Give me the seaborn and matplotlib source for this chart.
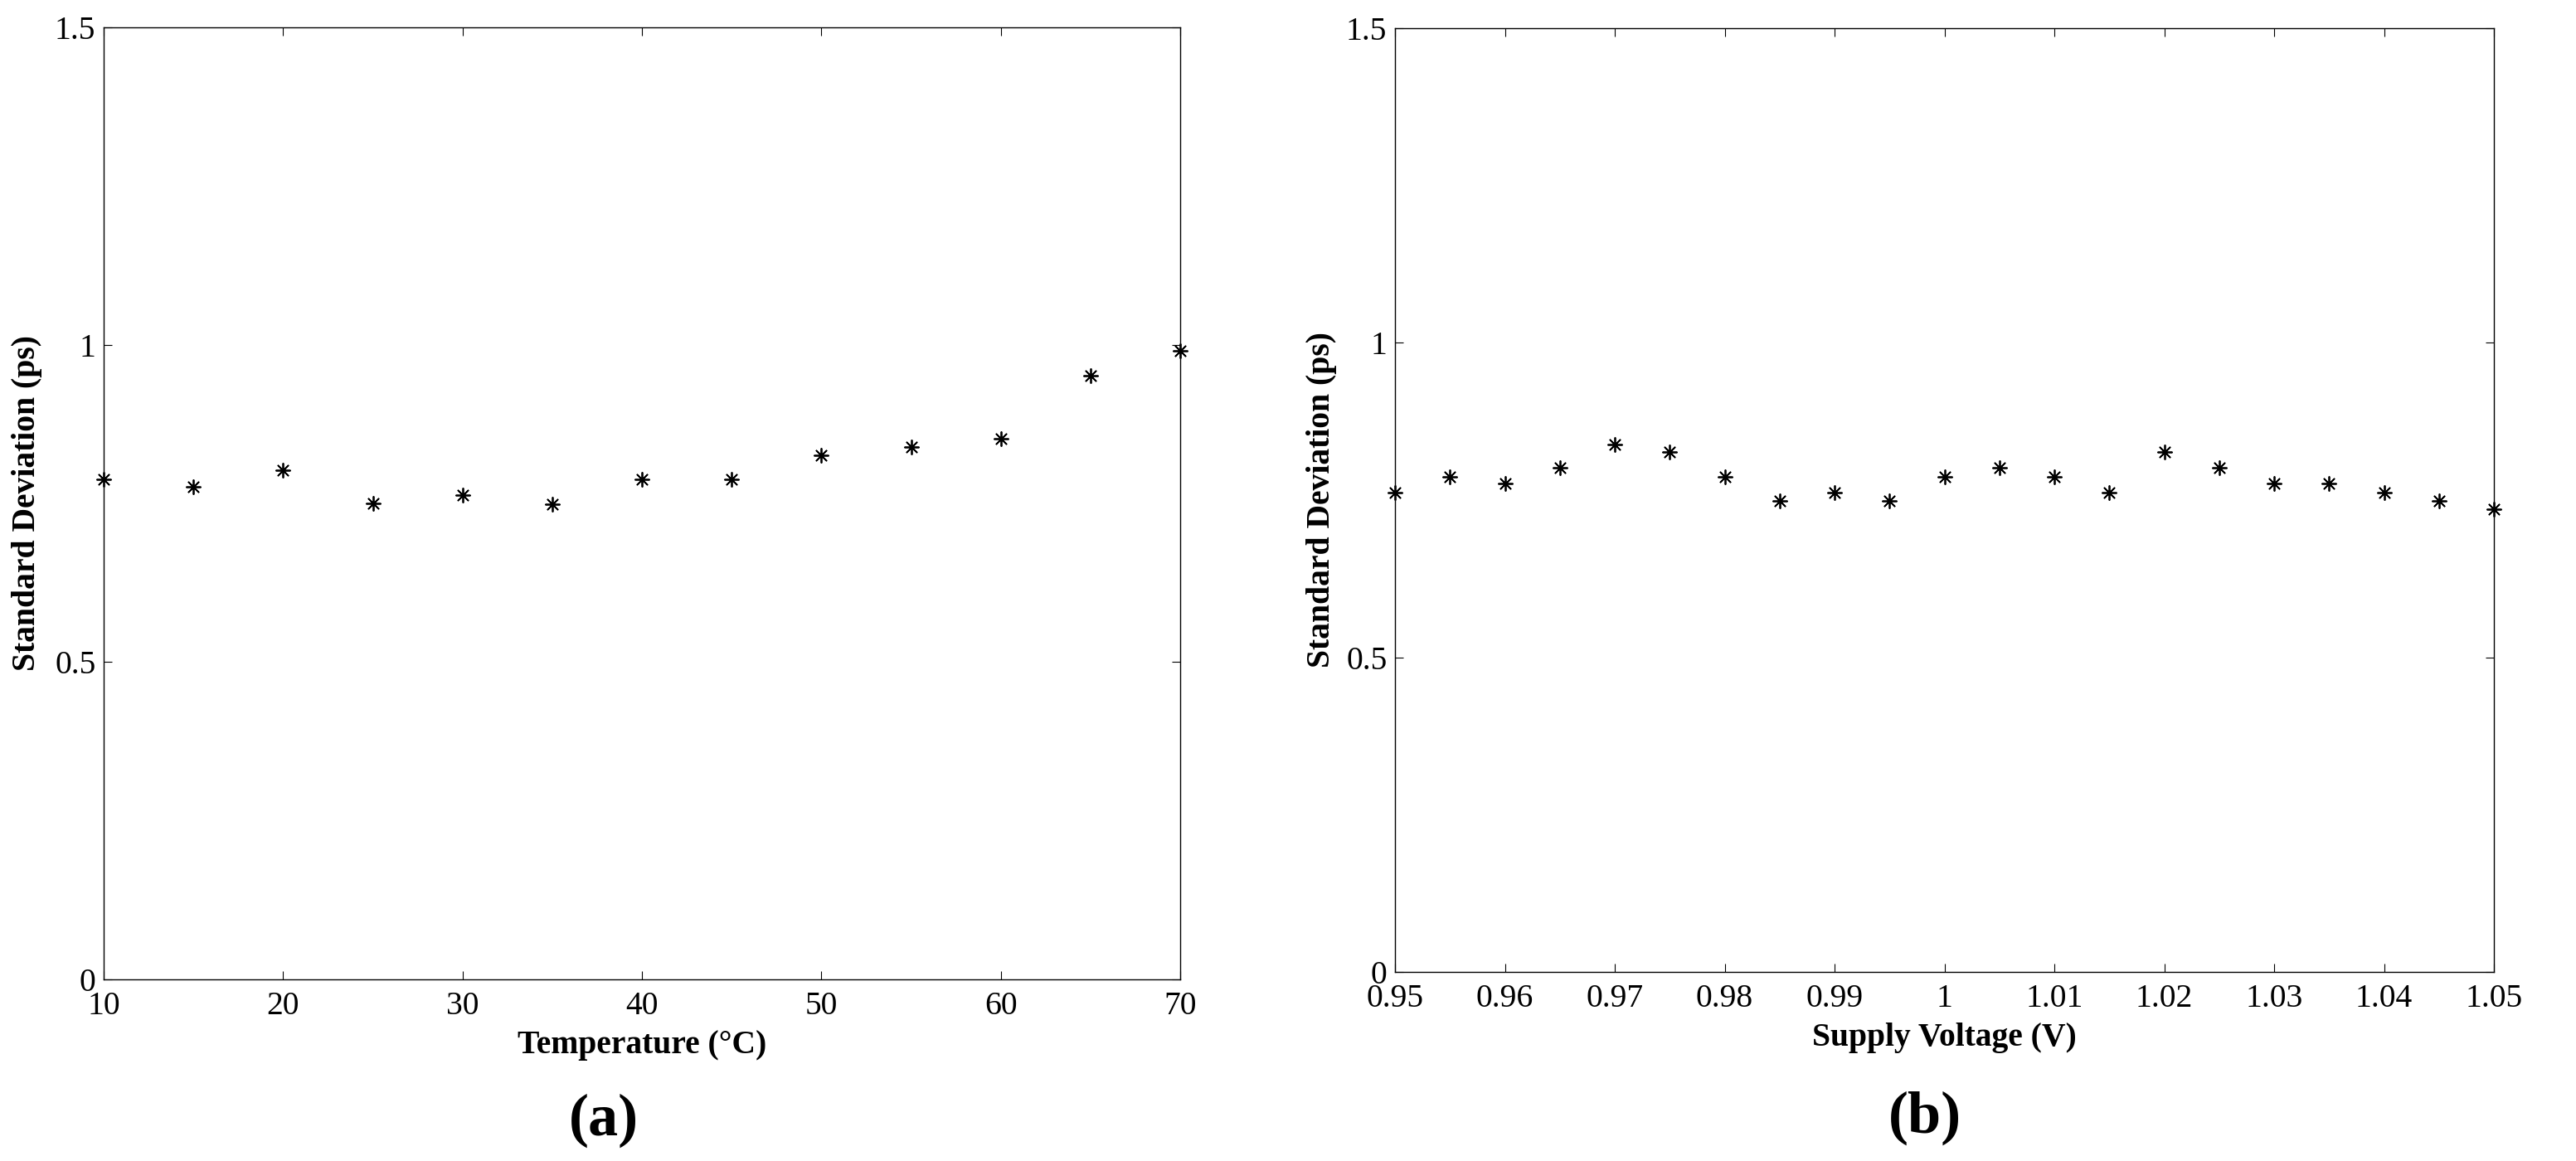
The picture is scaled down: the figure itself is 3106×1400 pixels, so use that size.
import numpy as np
import pandas as pd
import matplotlib
matplotlib.use("Agg")
import matplotlib.pyplot as plt
import seaborn as sns
from matplotlib.ticker import FuncFormatter

# --- data ---
temperature = [10, 15, 20, 25, 30, 35, 40, 45, 50, 55, 60, 65, 70]
std_temp = [0.788, 0.776, 0.802, 0.750, 0.763, 0.749, 0.788, 0.788,
            0.826, 0.839, 0.852, 0.951, 0.991]

voltage = [0.95, 0.955, 0.96, 0.965, 0.97, 0.975, 0.98, 0.985, 0.99, 0.995,
           1.0, 1.005, 1.01, 1.015, 1.02, 1.025, 1.03, 1.035, 1.04, 1.045, 1.05]
std_volt = [0.762, 0.787, 0.776, 0.801, 0.838, 0.826, 0.787, 0.749, 0.762, 0.749,
            0.787, 0.801, 0.787, 0.762, 0.826, 0.801, 0.776, 0.776, 0.762, 0.749, 0.735]

temp_ticks = [10, 20, 30, 40, 50, 60, 70]
volt_ticks = [0.95, 0.96, 0.97, 0.98, 0.99, 1.0, 1.01, 1.02, 1.03, 1.04, 1.05]
y_ticks = [0, 0.5, 1, 1.5]

# --- style ---
sns.set_style("ticks")
plt.rcParams['font.family'] = ['Liberation Serif', 'DejaVu Serif']
plt.rcParams['axes.linewidth'] = 1.0
plt.rcParams['text.color'] = 'black'
plt.rcParams['axes.labelcolor'] = 'black'
plt.rcParams['xtick.color'] = 'black'
plt.rcParams['ytick.color'] = 'black'
plt.rcParams['axes.edgecolor'] = 'black'

W, H = 3106, 1400
fig = plt.figure(figsize=(W / 100, H / 100), dpi=100)

def px_axes(x0, y0, x1, y1):
    return fig.add_axes([x0 / W, 1 - y1 / H, (x1 - x0) / W, (y1 - y0) / H])

ax_a = px_axes(125, 33, 1423, 1181)
ax_b = px_axes(1682, 34, 3007, 1172)

ASTERISK = (8, 2, 0)
fmt = FuncFormatter(lambda v, p: f"{v:g}")

def style_axes(ax, xlabel, xlab_y, ylab_x):
    ax.set_ylim(0, 1.5)
    ax.set_yticks(y_ticks)
    ax.yaxis.set_major_formatter(fmt)
    ax.xaxis.set_major_formatter(fmt)
    ax.tick_params(direction='in', length=7, width=0.8, top=True, right=True,
                   labelsize=28.5, color='black', labelcolor='black')
    ax.tick_params(axis='x', pad=10)
    ax.tick_params(axis='y', pad=7)
    for s in ax.spines.values():
        s.set_visible(True)
        s.set_color('black')
    ax.set_xlabel(xlabel, fontsize=28.5, fontweight='bold', va='top', color='black')
    ax.set_ylabel('Standard Deviation (ps)', fontsize=28.5, fontweight='bold', color='black')
    ax.xaxis.set_label_coords(0.5, xlab_y)
    ax.yaxis.set_label_coords(ylab_x, 0.5)

# (a) temperature
df_a = pd.DataFrame({'t': temperature, 's': std_temp})
sns.scatterplot(data=df_a, x='t', y='s', ax=ax_a, marker=ASTERISK, s=150,
                color='black', linewidth=1.3, clip_on=False, zorder=3)
ax_a.set_xlim(10, 70)
ax_a.set_xticks(temp_ticks)
style_axes(ax_a, 'Temperature (°C)', -0.053, -0.057)

# (b) supply voltage
df_b = pd.DataFrame({'v': voltage, 's': std_volt})
sns.scatterplot(data=df_b, x='v', y='s', ax=ax_b, marker=ASTERISK, s=150,
                color='black', linewidth=1.3, clip_on=False, zorder=3)
ax_b.set_xlim(0.95, 1.05)
ax_b.set_xticks(volt_ticks)
style_axes(ax_b, 'Supply Voltage (V)', -0.054, -0.053)

fig.text(728 / W, 1 - 1351 / H, '(a)', fontsize=52, fontweight='bold',
         ha='center', va='center', color='black')
fig.text(2321 / W, 1 - 1348 / H, '(b)', fontsize=52, fontweight='bold',
         ha='center', va='center', color='black')

fig.savefig('out.png', dpi=100, facecolor='white')
